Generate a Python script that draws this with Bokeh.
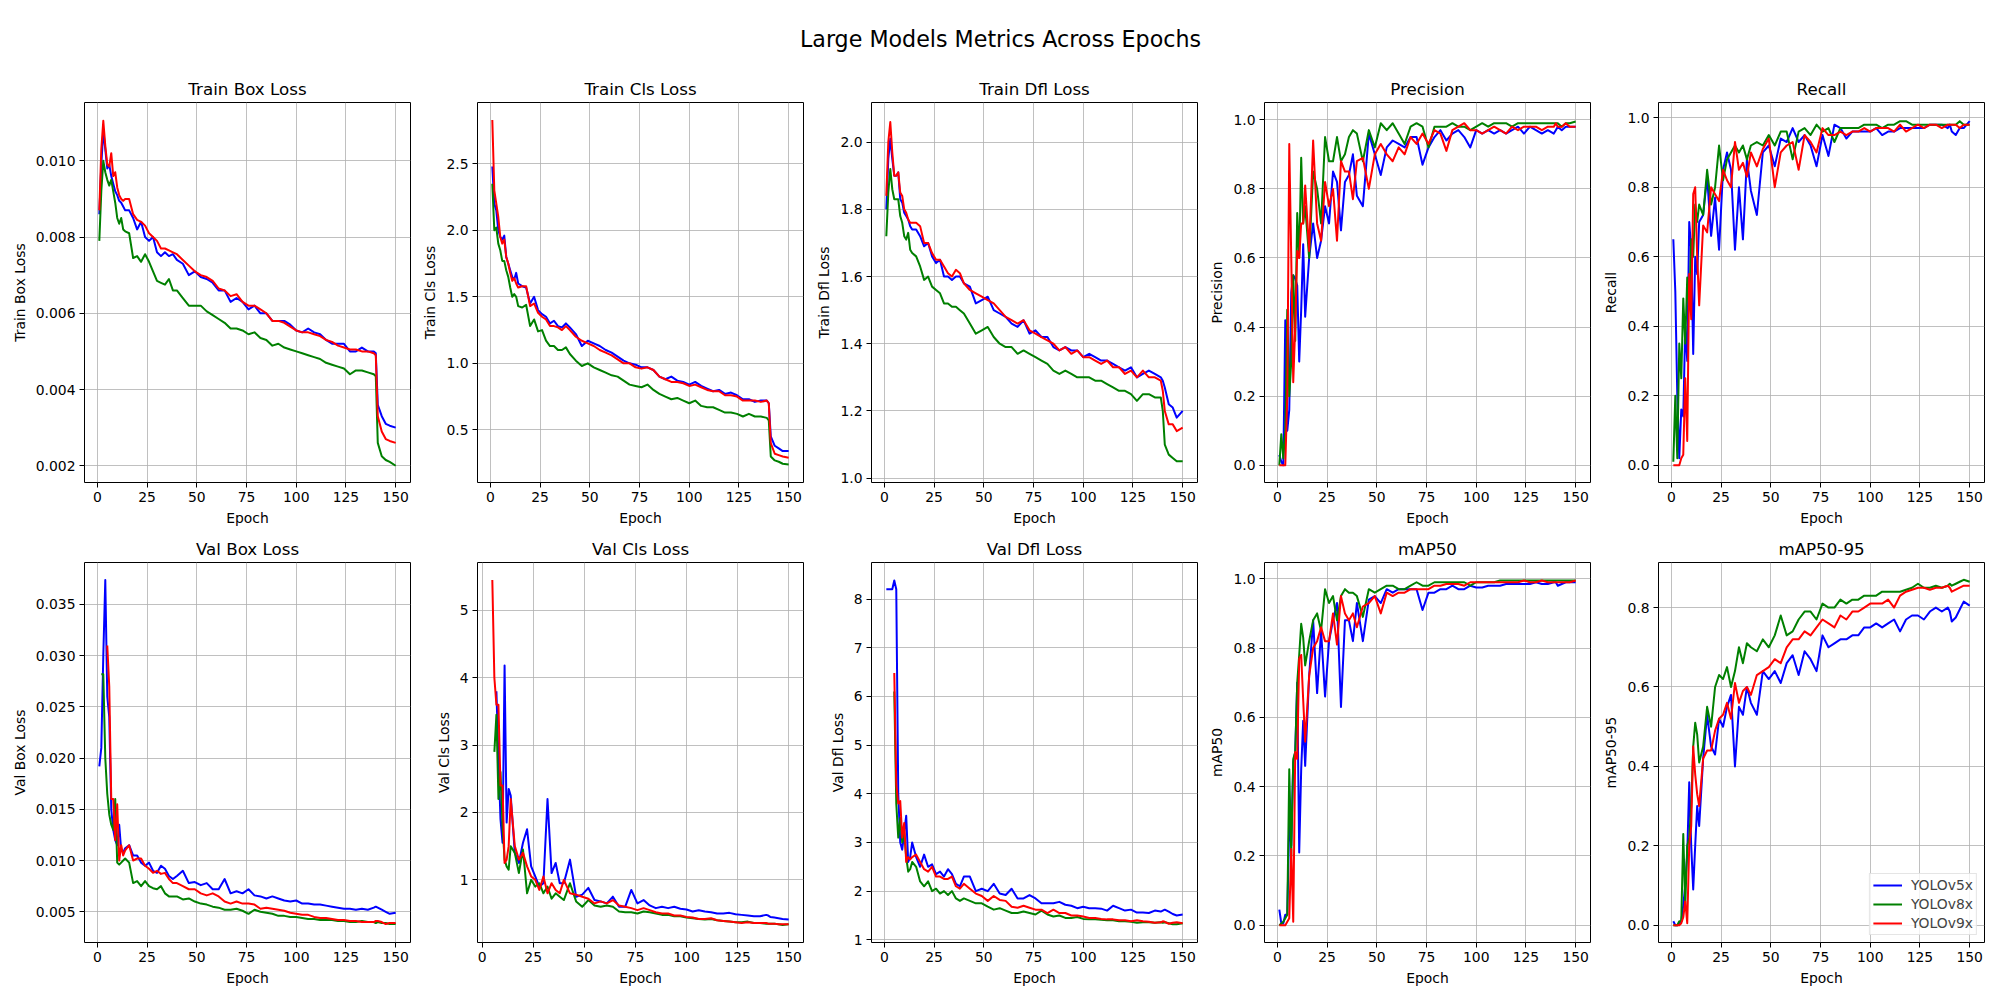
import numpy as np
from bokeh.plotting import figure
from bokeh.layouts import row, column
from bokeh.models import Range1d, FixedTicker, PrintfTickFormatter, Legend, LegendItem
from bokeh.core.properties import value
from bokeh.embed import file_html
from bokeh.resources import INLINE

# ---------------- data ----------------
epochs = [1, 2, 3, 4, 5, 6, 7, 8, 9, 10, 11, 12, 13, 14,
          16, 18, 20, 22, 24, 26, 28, 30, 32, 34, 36, 38, 40,
          43, 46, 49, 52, 55, 58, 61, 64, 67, 70,
          73, 76, 79, 82, 85, 88, 91, 94, 97, 100,
          103, 106, 109, 112, 115, 118, 121, 124, 127, 130, 133, 136, 139,
          140, 141, 143, 145, 147, 150]

models = ["YOLOv5x", "YOLOv8x", "YOLOv9x"]

train_box_v5 = [0.0086, 0.0099, 0.0108, 0.0103, 0.0098, 0.0099, 0.0096, 0.0094, 0.0092, 0.0091, 0.00895, 0.0089, 0.0088, 0.0087,
                0.0087, 0.0085, 0.0082, 0.0084, 0.0080, 0.0079, 0.0080, 0.0076, 0.0075, 0.0076, 0.0075, 0.00755, 0.0074,
                0.0073, 0.0070, 0.0071, 0.00695, 0.0069, 0.0068, 0.0066, 0.0066, 0.0063, 0.0064,
                0.0063, 0.0061, 0.0062, 0.0060, 0.0060, 0.0058, 0.0058, 0.0058, 0.0057, 0.00555,
                0.0055, 0.0056, 0.0055, 0.00545, 0.0053, 0.0052, 0.0052, 0.0052, 0.0050, 0.0050, 0.0051, 0.0050, 0.0050,
                0.00495, 0.0036, 0.0033, 0.0031, 0.00305, 0.0030]
train_box_v8 = [0.0079, 0.0092, 0.0100, 0.0097, 0.0095, 0.00935, 0.0095, 0.0092, 0.0089, 0.0085, 0.00835, 0.0085, 0.0082, 0.00815,
                0.0081, 0.00745, 0.0075, 0.00735, 0.00755, 0.00735, 0.0071, 0.00685, 0.0068, 0.00675, 0.0069, 0.0066, 0.0066,
                0.0064, 0.0062, 0.0062, 0.0062, 0.00605, 0.00595, 0.00585, 0.00575, 0.0056, 0.0056,
                0.00555, 0.00545, 0.0055, 0.00535, 0.0053, 0.00515, 0.0052, 0.0051, 0.00505, 0.0050,
                0.00495, 0.0049, 0.00485, 0.0048, 0.0047, 0.00465, 0.0046, 0.00455, 0.0044, 0.0045, 0.0045, 0.00445, 0.0044,
                0.00435, 0.0026, 0.00225, 0.00215, 0.0021, 0.0020]
train_box_v9 = [0.0087, 0.0103, 0.01105, 0.0104, 0.0099, 0.00985, 0.0102, 0.0096, 0.0097, 0.0093, 0.0091, 0.0090, 0.00895, 0.0090,
                0.0090, 0.0086, 0.00845, 0.0084, 0.0083, 0.0081, 0.0080, 0.0079, 0.0077, 0.0077, 0.00765, 0.0076, 0.00755,
                0.0074, 0.00725, 0.0071, 0.0070, 0.00695, 0.00685, 0.00665, 0.0066, 0.00645, 0.0065,
                0.0063, 0.0062, 0.0062, 0.0061, 0.0060, 0.0058, 0.0058, 0.00575, 0.00565, 0.00555,
                0.0055, 0.0055, 0.00545, 0.0054, 0.0053, 0.00525, 0.00515, 0.0051, 0.00505, 0.00505, 0.0050, 0.0050, 0.00495,
                0.0049, 0.0033, 0.0029, 0.0027, 0.00265, 0.0026]

train_cls_v5 = [2.48, 2.2, 2.15, 2.0, 1.95, 1.93, 1.96, 1.8, 1.75, 1.7, 1.65, 1.63, 1.68, 1.6,
                1.58, 1.57, 1.45, 1.5, 1.4, 1.37, 1.35, 1.3, 1.32, 1.28, 1.27, 1.3, 1.27,
                1.22, 1.13, 1.17, 1.15, 1.13, 1.1, 1.08, 1.05, 1.02, 1.0,
                0.99, 0.97, 0.97, 0.95, 0.9, 0.88, 0.9, 0.87, 0.86, 0.84,
                0.86, 0.83, 0.81, 0.79, 0.8, 0.77, 0.78, 0.76, 0.73, 0.73, 0.71, 0.72, 0.72,
                0.7, 0.45, 0.38, 0.36, 0.34, 0.34]
train_cls_v8 = [2.35, 2.0, 2.02, 1.9, 1.85, 1.77, 1.77, 1.7, 1.65, 1.57, 1.5, 1.52, 1.5, 1.43,
                1.42, 1.44, 1.28, 1.33, 1.24, 1.25, 1.17, 1.13, 1.13, 1.1, 1.1, 1.12, 1.07,
                1.02, 0.98, 1.0, 0.97, 0.95, 0.93, 0.91, 0.9, 0.87, 0.84,
                0.83, 0.82, 0.84, 0.8, 0.77, 0.75, 0.73, 0.74, 0.72, 0.7,
                0.72, 0.68, 0.67, 0.67, 0.65, 0.63, 0.63, 0.62, 0.6, 0.62, 0.6, 0.6, 0.59,
                0.57, 0.3, 0.27, 0.26, 0.245, 0.24]
train_cls_v9 = [2.83, 2.3, 2.2, 2.1, 1.95, 1.9, 1.93, 1.8, 1.75, 1.68, 1.62, 1.64, 1.6, 1.57,
                1.58, 1.58, 1.43, 1.45, 1.38, 1.35, 1.33, 1.28, 1.28, 1.27, 1.25, 1.28, 1.25,
                1.2, 1.17, 1.15, 1.13, 1.1, 1.08, 1.06, 1.03, 1.0, 1.0,
                0.97, 0.96, 0.97, 0.95, 0.9, 0.88, 0.86, 0.86, 0.85, 0.83,
                0.84, 0.82, 0.8, 0.79, 0.79, 0.76, 0.76, 0.75, 0.72, 0.72, 0.72, 0.71, 0.72,
                0.7, 0.4, 0.32, 0.31, 0.3, 0.29]

train_dfl_v5 = [1.80, 1.95, 2.01, 1.95, 1.9, 1.9, 1.91, 1.83, 1.82, 1.79, 1.78, 1.77, 1.75, 1.74,
                1.74, 1.72, 1.69, 1.7, 1.66, 1.64, 1.65, 1.6, 1.6, 1.59, 1.6, 1.6, 1.58,
                1.57, 1.52, 1.53, 1.54, 1.5, 1.49, 1.48, 1.46, 1.45, 1.47,
                1.43, 1.44, 1.42, 1.42, 1.39, 1.38, 1.39, 1.38, 1.38, 1.36,
                1.37, 1.36, 1.35, 1.35, 1.34, 1.33, 1.32, 1.33, 1.3, 1.31, 1.32, 1.31, 1.3,
                1.29, 1.27, 1.22, 1.21, 1.18, 1.2]
train_dfl_v8 = [1.72, 1.85, 1.92, 1.86, 1.83, 1.83, 1.83, 1.78, 1.76, 1.72, 1.71, 1.73, 1.68, 1.67,
                1.66, 1.63, 1.59, 1.6, 1.57, 1.56, 1.55, 1.52, 1.52, 1.51, 1.51, 1.5, 1.49,
                1.46, 1.43, 1.44, 1.45, 1.42, 1.4, 1.39, 1.39, 1.37, 1.38,
                1.37, 1.36, 1.35, 1.34, 1.32, 1.31, 1.32, 1.31, 1.3, 1.3,
                1.3, 1.29, 1.29, 1.28, 1.27, 1.26, 1.26, 1.25, 1.23, 1.25, 1.25, 1.24, 1.24,
                1.2, 1.1, 1.07, 1.06, 1.05, 1.05]
train_dfl_v9 = [1.84, 2.0, 2.06, 1.97, 1.9, 1.9, 1.91, 1.85, 1.84, 1.8, 1.79, 1.77, 1.76, 1.76,
                1.76, 1.75, 1.7, 1.7, 1.67, 1.65, 1.65, 1.63, 1.61, 1.6, 1.62, 1.61, 1.58,
                1.56, 1.55, 1.54, 1.53, 1.52, 1.5, 1.48, 1.47, 1.46, 1.47,
                1.44, 1.43, 1.42, 1.41, 1.4, 1.38, 1.39, 1.37, 1.38, 1.36,
                1.36, 1.35, 1.34, 1.35, 1.33, 1.33, 1.31, 1.32, 1.3, 1.32, 1.3, 1.3, 1.29,
                1.26, 1.2, 1.16, 1.16, 1.14, 1.15]

precision_v5 = [0.03, 0.01, 0.0, 0.42, 0.1, 0.16, 0.5, 0.55, 0.54, 0.52, 0.3, 0.45, 0.64, 0.43,
                0.6, 0.7, 0.6, 0.65, 0.75, 0.7, 0.85, 0.82, 0.68, 0.82, 0.84, 0.9, 0.78,
                0.75, 0.96, 0.9, 0.84, 0.92, 0.94, 0.93, 0.92, 0.95, 0.95,
                0.87, 0.92, 0.95, 0.97, 0.94, 0.96, 0.97, 0.95, 0.92, 0.97,
                0.96, 0.97, 0.96, 0.97, 0.96, 0.97, 0.98, 0.96, 0.98, 0.97, 0.96, 0.97, 0.96,
                0.97, 0.98, 0.97, 0.98, 0.98, 0.98]
precision_v8 = [0.0, 0.09, 0.02, 0.1, 0.45, 0.2, 0.3, 0.55, 0.36, 0.73, 0.6, 0.89, 0.7, 0.75,
                0.6, 0.85, 0.8, 0.7, 0.95, 0.88, 0.88, 0.95, 0.88, 0.9, 0.95, 0.97, 0.96,
                0.88, 0.97, 0.92, 0.99, 0.97, 0.99, 0.96, 0.93, 0.98, 0.99,
                0.98, 0.92, 0.98, 0.98, 0.98, 0.99, 0.98, 0.98, 0.97, 0.98,
                0.99, 0.98, 0.99, 0.99, 0.99, 0.98, 0.99, 0.99, 0.99, 0.99, 0.99, 0.99, 0.99,
                0.99, 0.99, 0.98, 0.99, 0.99, 0.995]
precision_v9 = [0.0, 0.0, 0.0, 0.0, 0.2, 0.93, 0.6, 0.24, 0.4, 0.62, 0.6, 0.7, 0.7, 0.81,
                0.62, 0.94, 0.7, 0.65, 0.82, 0.75, 0.8, 0.65, 0.88, 0.85, 0.85, 0.77, 0.88,
                0.89, 0.8, 0.9, 0.93, 0.9, 0.88, 0.92, 0.9, 0.95, 0.93,
                0.96, 0.93, 0.97, 0.96, 0.91, 0.97, 0.98, 0.99, 0.97, 0.97,
                0.96, 0.97, 0.98, 0.97, 0.96, 0.98, 0.97, 0.98, 0.98, 0.98, 0.97, 0.98, 0.98,
                0.99, 0.98, 0.98, 0.99, 0.98, 0.98]

recall_v5 = [0.65, 0.5, 0.2, 0.02, 0.16, 0.14, 0.4, 0.3, 0.7, 0.62, 0.32, 0.6, 0.55, 0.7,
             0.72, 0.83, 0.66, 0.77, 0.62, 0.85, 0.9, 0.85, 0.62, 0.8, 0.65, 0.88, 0.79,
             0.72, 0.9, 0.92, 0.86, 0.94, 0.93, 0.97, 0.93, 0.95, 0.92,
             0.86, 0.95, 0.89, 0.98, 0.97, 0.94, 0.96, 0.96, 0.96, 0.96,
             0.97, 0.95, 0.96, 0.96, 0.97, 0.97, 0.97, 0.97, 0.97, 0.98, 0.98, 0.98, 0.97,
             0.98, 0.96, 0.95, 0.97, 0.97, 0.99]
recall_v8 = [0.01, 0.2, 0.02, 0.35, 0.25, 0.48, 0.35, 0.54, 0.45, 0.65, 0.6, 0.75, 0.7, 0.75,
             0.72, 0.85, 0.75, 0.8, 0.92, 0.82, 0.88, 0.9, 0.92, 0.9, 0.92, 0.88, 0.92,
             0.93, 0.92, 0.95, 0.92, 0.96, 0.96, 0.88, 0.96, 0.97, 0.95,
             0.98, 0.96, 0.97, 0.93, 0.97, 0.97, 0.97, 0.97, 0.98, 0.98,
             0.98, 0.97, 0.98, 0.98, 0.99, 0.99, 0.98, 0.98, 0.98, 0.98, 0.98, 0.98, 0.98,
             0.98, 0.98, 0.98, 0.99, 0.98, 0.98]
recall_v9 = [0.0, 0.0, 0.0, 0.0, 0.02, 0.03, 0.25, 0.07, 0.55, 0.42, 0.78, 0.8, 0.6, 0.46,
             0.69, 0.67, 0.8, 0.78, 0.76, 0.85, 0.82, 0.8, 0.93, 0.85, 0.87, 0.83, 0.9,
             0.86, 0.91, 0.94, 0.8, 0.9, 0.92, 0.93, 0.85, 0.95, 0.93,
             0.9, 0.97, 0.95, 0.95, 0.96, 0.95, 0.96, 0.96, 0.97, 0.96,
             0.97, 0.97, 0.97, 0.96, 0.98, 0.96, 0.97, 0.98, 0.97, 0.98, 0.98, 0.97, 0.98,
             0.98, 0.98, 0.98, 0.97, 0.98, 0.98]

val_box_v5 = [0.0192, 0.021, 0.030, 0.0374, 0.026, 0.024, 0.015, 0.013, 0.012, 0.0115, 0.0135, 0.011, 0.0108, 0.0112,
              0.0115, 0.0105, 0.0105, 0.0098, 0.0095, 0.0098, 0.009, 0.0088, 0.0095, 0.0092, 0.0085, 0.0082, 0.0085,
              0.009, 0.0078, 0.0079, 0.0076, 0.0078, 0.0072, 0.0072, 0.0082, 0.0068, 0.007,
              0.0068, 0.0072, 0.0066, 0.0065, 0.0063, 0.0065, 0.0063, 0.0061, 0.006, 0.0061,
              0.0058, 0.0058, 0.0057, 0.0057, 0.0056, 0.0055, 0.0054, 0.0053, 0.0053, 0.0052, 0.0053, 0.0052, 0.0054,
              0.0055, 0.0054, 0.0052, 0.005, 0.0048, 0.0049]
val_box_v8 = [None, 0.0282, 0.0282, 0.020, 0.0165, 0.0145, 0.0135, 0.013, 0.016, 0.0098, 0.0096, 0.0098, 0.010, 0.0102,
              0.0098, 0.0078, 0.008, 0.0075, 0.008, 0.0075, 0.0073, 0.0072, 0.0075, 0.0068, 0.0065, 0.0065, 0.0065,
              0.0062, 0.0063, 0.006, 0.0058, 0.0057, 0.0055, 0.0054, 0.0052, 0.0052, 0.0053,
              0.0051, 0.0048, 0.0052, 0.005, 0.0049, 0.0048, 0.0046, 0.0046, 0.0045, 0.0045,
              0.0044, 0.0043, 0.0043, 0.0042, 0.0042, 0.0042, 0.0041, 0.0041, 0.004, 0.004, 0.0041, 0.004, 0.004,
              0.0039, 0.004, 0.0039, 0.0039, 0.0038, 0.0038]
val_box_v9 = [None, None, None, None, 0.031, 0.027, 0.016, 0.016, 0.012, 0.0155, 0.010, 0.0115, 0.0105, 0.011,
              0.0115, 0.010, 0.0102, 0.0102, 0.0095, 0.0092, 0.0088, 0.009, 0.0087, 0.0088, 0.0082, 0.0078, 0.0078,
              0.0075, 0.0072, 0.0072, 0.0068, 0.0066, 0.0068, 0.0065, 0.006, 0.0058, 0.006,
              0.0058, 0.0058, 0.0057, 0.0053, 0.0054, 0.0053, 0.0052, 0.0051, 0.0049, 0.0048,
              0.0047, 0.0047, 0.0045, 0.0044, 0.0044, 0.0043, 0.0042, 0.0042, 0.0041, 0.0041, 0.004, 0.004, 0.004,
              0.0041, 0.0041, 0.004, 0.0038, 0.0039, 0.0039]

val_cls_v5 = [None, None, None, None, None, None, 3.8, 2.8, 1.9, 1.55, 4.18, 1.85, 2.35, 2.25,
              1.4, 1.25, 1.55, 1.75, 1.2, 1.05, 0.9, 0.95, 2.2, 1.1, 1.25, 0.95, 0.95,
              1.3, 0.75, 0.78, 0.88, 0.7, 0.68, 0.65, 0.75, 0.6, 0.6,
              0.85, 0.65, 0.7, 0.62, 0.58, 0.6, 0.58, 0.6, 0.57, 0.56,
              0.53, 0.55, 0.53, 0.52, 0.5, 0.5, 0.51, 0.49, 0.48, 0.47, 0.46, 0.46, 0.48,
              0.47, 0.45, 0.44, 0.43, 0.42, 0.41]
val_cls_v8 = [None, None, None, None, None, 2.9, 3.45, 2.2, 2.6, 1.8, 1.3, 1.2, 1.15, 1.5,
              1.4, 1.1, 1.45, 0.8, 1.0, 0.9, 0.95, 0.8, 0.9, 0.72, 0.8, 0.75, 0.7,
              0.95, 0.68, 0.6, 0.7, 0.62, 0.6, 0.62, 0.6, 0.53, 0.52,
              0.52, 0.5, 0.53, 0.52, 0.5, 0.48, 0.48, 0.46, 0.46, 0.44,
              0.43, 0.42, 0.41, 0.42, 0.4, 0.39, 0.38, 0.37, 0.37, 0.38, 0.36, 0.36, 0.35,
              0.35, 0.35, 0.35, 0.34, 0.33, 0.34]
val_cls_v9 = [None, None, None, None, 5.45, 4.0, 3.6, 3.6, 2.4, 2.4, 1.25, 1.3, 1.5, 2.2,
              1.5, 1.3, 1.4, 1.2, 1.05, 1.0, 0.85, 1.05, 0.8, 0.95, 0.85, 0.8, 1.0,
              0.8, 0.78, 0.75, 0.72, 0.65, 0.68, 0.65, 0.7, 0.62, 0.6,
              0.58, 0.55, 0.58, 0.55, 0.52, 0.5, 0.5, 0.47, 0.47, 0.45,
              0.44, 0.42, 0.42, 0.43, 0.4, 0.39, 0.38, 0.37, 0.36, 0.37, 0.36, 0.36, 0.36,
              0.35, 0.35, 0.35, 0.34, 0.34, 0.34]

val_dfl_v5 = [8.2, 8.2, 8.2, 8.2, 8.38, 8.2, 4.0, 3.0, 2.85, 3.2, 3.55, 2.6, 2.7, 3.0,
              2.7, 2.5, 2.75, 2.5, 2.55, 2.35, 2.4, 2.3, 2.45, 2.35, 2.15, 2.1, 2.3,
              2.3, 2.0, 2.05, 2.0, 2.15, 1.95, 1.92, 2.05, 1.85, 1.85,
              1.92, 1.85, 1.75, 1.75, 1.75, 1.78, 1.72, 1.7, 1.65, 1.68,
              1.65, 1.65, 1.64, 1.6, 1.7, 1.65, 1.6, 1.62, 1.56, 1.56, 1.55, 1.6, 1.58,
              1.6, 1.62, 1.58, 1.53, 1.5, 1.52]
val_dfl_v8 = [None, None, None, None, 6.1, 3.8, 3.1, 3.5, 3.0, 3.2, 2.7, 2.4, 2.45, 2.6,
              2.5, 2.2, 2.1, 2.2, 2.0, 2.05, 1.95, 2.0, 1.92, 2.0, 1.85, 1.8, 1.85,
              1.8, 1.75, 1.75, 1.68, 1.62, 1.65, 1.6, 1.55, 1.55, 1.58,
              1.55, 1.52, 1.6, 1.52, 1.48, 1.5, 1.45, 1.45, 1.47, 1.43,
              1.42, 1.42, 1.41, 1.4, 1.4, 1.38, 1.38, 1.37, 1.35, 1.36, 1.36, 1.35, 1.36,
              1.35, 1.36, 1.34, 1.32, 1.32, 1.34]
val_dfl_v9 = [None, None, None, None, 6.48, 4.2, 3.8, 3.85, 3.1, 3.4, 2.6, 2.7, 2.65, 2.7,
              2.75, 2.6, 2.45, 2.4, 2.5, 2.3, 2.3, 2.25, 2.25, 2.3, 2.1, 2.05, 2.15,
              2.05, 1.95, 1.9, 1.8, 1.9, 1.82, 1.8, 1.68, 1.66, 1.7,
              1.66, 1.62, 1.62, 1.55, 1.62, 1.55, 1.55, 1.5, 1.5, 1.48,
              1.45, 1.45, 1.43, 1.42, 1.42, 1.4, 1.4, 1.38, 1.4, 1.38, 1.37, 1.35, 1.36,
              1.38, 1.37, 1.33, 1.35, 1.36, 1.34]

map50_v5 = [0.045, 0.005, 0.005, 0.03, 0.03, 0.3, 0.23, 0.47, 0.5, 0.7, 0.21, 0.45, 0.59, 0.46,
            0.72, 0.88, 0.67, 0.85, 0.66, 0.82, 0.88, 0.93, 0.63, 0.88, 0.88, 0.82, 0.93,
            0.82, 0.94, 0.95, 0.93, 0.97, 0.96, 0.97, 0.97, 0.97, 0.97,
            0.91, 0.96, 0.96, 0.97, 0.97, 0.98, 0.97, 0.97, 0.98, 0.975,
            0.975, 0.98, 0.98, 0.98, 0.985, 0.985, 0.985, 0.985, 0.985, 0.99, 0.985, 0.985, 0.99,
            0.99, 0.98, 0.985, 0.99, 0.99, 0.99]
map50_v8 = [0.0, 0.005, 0.01, 0.02, 0.03, 0.45, 0.2, 0.48, 0.5, 0.7, 0.78, 0.87, 0.83, 0.75,
            0.82, 0.88, 0.9, 0.85, 0.97, 0.93, 0.95, 0.88, 0.95, 0.97, 0.96, 0.96, 0.95,
            0.89, 0.97, 0.96, 0.97, 0.98, 0.98, 0.97, 0.97, 0.98, 0.99,
            0.98, 0.98, 0.99, 0.99, 0.99, 0.99, 0.99, 0.99, 0.98, 0.99,
            0.99, 0.99, 0.99, 0.995, 0.995, 0.995, 0.995, 0.995, 0.995, 0.995, 0.995, 0.995, 0.995,
            0.995, 0.995, 0.995, 0.995, 0.995, 0.995]
map50_v9 = [0.0, 0.0, 0.0, 0.0, 0.01, 0.02, 0.22, 0.01, 0.5, 0.48, 0.77, 0.78, 0.65, 0.53,
            0.72, 0.8, 0.82, 0.86, 0.82, 0.82, 0.9, 0.81, 0.95, 0.9, 0.88, 0.9, 0.86,
            0.92, 0.93, 0.95, 0.9, 0.96, 0.95, 0.96, 0.96, 0.97, 0.97,
            0.97, 0.97, 0.98, 0.98, 0.985, 0.985, 0.985, 0.98, 0.99, 0.99,
            0.99, 0.99, 0.99, 0.99, 0.99, 0.99, 0.99, 0.995, 0.99, 0.99, 0.995, 0.99, 0.99,
            0.99, 0.99, 0.99, 0.99, 0.99, 0.995]

map5095_v5 = [0.01, 0.0, 0.0, 0.005, 0.01, 0.05, 0.1, 0.18, 0.36, 0.2, 0.09, 0.2, 0.3, 0.25,
              0.42, 0.53, 0.45, 0.43, 0.52, 0.5, 0.55, 0.58, 0.4, 0.55, 0.53, 0.6, 0.56,
              0.53, 0.64, 0.62, 0.64, 0.61, 0.66, 0.68, 0.63, 0.69, 0.67,
              0.64, 0.73, 0.7, 0.71, 0.72, 0.72, 0.73, 0.73, 0.75, 0.75,
              0.76, 0.75, 0.76, 0.77, 0.74, 0.77, 0.78, 0.78, 0.77, 0.79, 0.8, 0.79, 0.8,
              0.79, 0.765, 0.775, 0.795, 0.815, 0.805]
map5095_v8 = [0.0, 0.0, 0.0, 0.01, 0.01, 0.23, 0.05, 0.2, 0.22, 0.3, 0.45, 0.51, 0.48, 0.41,
              0.45, 0.55, 0.5, 0.6, 0.63, 0.62, 0.65, 0.6, 0.64, 0.7, 0.66, 0.71, 0.7,
              0.69, 0.72, 0.7, 0.73, 0.78, 0.73, 0.74, 0.77, 0.79, 0.79,
              0.77, 0.81, 0.8, 0.8, 0.82, 0.81, 0.82, 0.82, 0.83, 0.83,
              0.83, 0.84, 0.84, 0.84, 0.84, 0.845, 0.85, 0.86, 0.85, 0.85, 0.855, 0.85, 0.855,
              0.86, 0.855, 0.86, 0.865, 0.87, 0.865]
map5095_v9 = [0.0, 0.0, 0.0, 0.0, 0.005, 0.02, 0.06, 0.005, 0.2, 0.25, 0.45, 0.38, 0.33, 0.3,
              0.42, 0.44, 0.44, 0.49, 0.52, 0.53, 0.56, 0.52, 0.61, 0.56, 0.59, 0.6, 0.58,
              0.63, 0.64, 0.65, 0.67, 0.66, 0.7, 0.72, 0.72, 0.74, 0.73,
              0.75, 0.77, 0.76, 0.75, 0.78, 0.77, 0.79, 0.79, 0.8, 0.81,
              0.81, 0.81, 0.82, 0.8, 0.83, 0.84, 0.845, 0.85, 0.85, 0.845, 0.85, 0.85, 0.855,
              0.85, 0.84, 0.845, 0.85, 0.855, 0.855]

x_ticks = [0, 25, 50, 75, 100, 125, 150]

panels = [
    dict(title="Train Box Loss", series=(train_box_v5, train_box_v8, train_box_v9),
         yr=(0.00156, 0.01153), xr=(-6.45, 157.45), yt=[0.002, 0.004, 0.006, 0.008, 0.010], fmt="%.3f"),
    dict(title="Train Cls Loss", series=(train_cls_v5, train_cls_v8, train_cls_v9),
         yr=(0.104, 2.961), xr=(-6.45, 157.45), yt=[0.5, 1.0, 1.5, 2.0, 2.5], fmt="%.1f"),
    dict(title="Train Dfl Loss", series=(train_dfl_v5, train_dfl_v8, train_dfl_v9),
         yr=(0.987, 2.118), xr=(-6.45, 157.45), yt=[1.0, 1.2, 1.4, 1.6, 1.8, 2.0], fmt="%.1f"),
    dict(title="Precision", series=(precision_v5, precision_v8, precision_v9),
         yr=(-0.05, 1.05), xr=(-6.45, 157.45), yt=[0.0, 0.2, 0.4, 0.6, 0.8, 1.0], fmt="%.1f"),
    dict(title="Recall", series=(recall_v5, recall_v8, recall_v9),
         yr=(-0.0497, 1.0437), xr=(-6.45, 157.45), yt=[0.0, 0.2, 0.4, 0.6, 0.8, 1.0], fmt="%.1f"),
    dict(title="Val Box Loss", series=(val_box_v5, val_box_v8, val_box_v9),
         yr=(0.0020, 0.0391), xr=(-6.45, 157.45),
         yt=[0.005, 0.010, 0.015, 0.020, 0.025, 0.030, 0.035], fmt="%.3f"),
    dict(title="Val Cls Loss", series=(val_cls_v5, val_cls_v8, val_cls_v9),
         yr=(0.07, 5.71), xr=(-2.25, 157.25), yt=[1, 2, 3, 4, 5], fmt="%d"),
    dict(title="Val Dfl Loss", series=(val_dfl_v5, val_dfl_v8, val_dfl_v9),
         yr=(0.945, 8.75), xr=(-6.45, 157.45), yt=[1, 2, 3, 4, 5, 6, 7, 8], fmt="%d"),
    dict(title="mAP50", series=(map50_v5, map50_v8, map50_v9),
         yr=(-0.05, 1.047), xr=(-6.45, 157.45), yt=[0.0, 0.2, 0.4, 0.6, 0.8, 1.0], fmt="%.1f"),
    dict(title="mAP50-95", series=(map5095_v5, map5095_v8, map5095_v9),
         yr=(-0.0435, 0.9135), xr=(-6.45, 157.45), yt=[0.0, 0.2, 0.4, 0.6, 0.8], fmt="%.1f"),
]

# ---------------- styling / layout ----------------
COLORS = ["blue", "green", "red"]
FONT = "DejaVu Sans"
FRAME_W, FRAME_H = 326, 380
LEFTS = [84, 59, 60, 59, 60]
RIGHTS = [8, 8, 8, 8, 6]
TOPS = [34, 32]
BOTTOMS = [48, 48]
HEAD_W, HEAD_H = 1998, 68


def make_panel(cfg, col, rw, with_legend=False):
    p = figure(frame_width=FRAME_W, frame_height=FRAME_H,
               min_border_left=LEFTS[col], min_border_right=RIGHTS[col],
               min_border_top=TOPS[rw], min_border_bottom=BOTTOMS[rw],
               x_range=Range1d(*cfg["xr"]), y_range=Range1d(*cfg["yr"]),
               title=cfg["title"], output_backend="svg", toolbar_location=None)
    p.background_fill_color = "white"
    p.border_fill_color = "white"
    p.outline_line_color = "black"
    p.outline_line_width = 1
    p.title.align = "center"
    p.title.text_font = FONT
    p.title.text_font_size = "16.7px"
    p.title.text_font_style = "normal"
    p.title.text_color = "black"
    p.title.standoff = 8

    p.xaxis.ticker = FixedTicker(ticks=x_ticks)
    p.xaxis.formatter = PrintfTickFormatter(format="%d")
    p.yaxis.ticker = FixedTicker(ticks=cfg["yt"])
    p.yaxis.formatter = PrintfTickFormatter(format=cfg["fmt"])
    p.xaxis.axis_label = "Epoch"
    p.yaxis.axis_label = cfg["title"]
    for ax in (p.xaxis, p.yaxis):
        ax.axis_line_color = None
        ax.major_tick_out = 5
        ax.major_tick_in = 0
        ax.major_tick_line_color = "black"
        ax.minor_tick_line_color = None
        ax.major_label_text_font = FONT
        ax.major_label_text_font_size = "13.9px"
        ax.major_label_text_color = "black"
        ax.axis_label_text_font = FONT
        ax.axis_label_text_font_size = "13.9px"
        ax.axis_label_text_font_style = "normal"
        ax.axis_label_text_color = "black"
        ax.major_label_standoff = 4
        ax.axis_label_standoff = 5
    p.grid.grid_line_color = "#b0b0b0"
    p.grid.grid_line_width = 0.8

    x = np.array(epochs, dtype=float)
    renderers = []
    for vals, color in zip(cfg["series"], COLORS):
        y = np.array(vals, dtype=float)
        r = p.line(x, y, line_color=color, line_width=2, line_join="round")
        renderers.append(r)

    if with_legend:
        legend = Legend(items=[LegendItem(label=m, renderers=[r]) for m, r in zip(models, renderers)],
                        location="bottom_right")
        legend.label_text_font = FONT
        legend.label_text_font_size = "13.9px"
        legend.border_line_color = "#cccccc"
        legend.border_line_width = 1
        legend.background_fill_alpha = 0.8
        legend.glyph_width = 29
        legend.glyph_height = 16
        legend.label_height = 16
        legend.label_standoff = 9
        legend.padding = 3
        legend.spacing = 3
        legend.margin = 7
        p.add_layout(legend)
    return p


head = figure(width=HEAD_W, height=HEAD_H, x_range=Range1d(0, HEAD_W), y_range=Range1d(0, HEAD_H),
              x_axis_location=None, y_axis_location=None, min_border=0,
              output_backend="svg", toolbar_location=None)
head.outline_line_color = None
head.grid.visible = False
head.text(x=[1000], y=[HEAD_H - 38], text=["Large Models Metrics Across Epochs"],
          text_align="center", text_baseline="middle",
          text_font=value(FONT), text_font_size="22.2px", text_color="black")

top_row = [make_panel(panels[i], i, 0) for i in range(5)]
bottom_row = [make_panel(panels[5 + i], i, 1, with_legend=(i == 4)) for i in range(5)]

layout = column(head, row(*top_row), row(*bottom_row))
open("out.html", "w").write(file_html(layout, INLINE))
